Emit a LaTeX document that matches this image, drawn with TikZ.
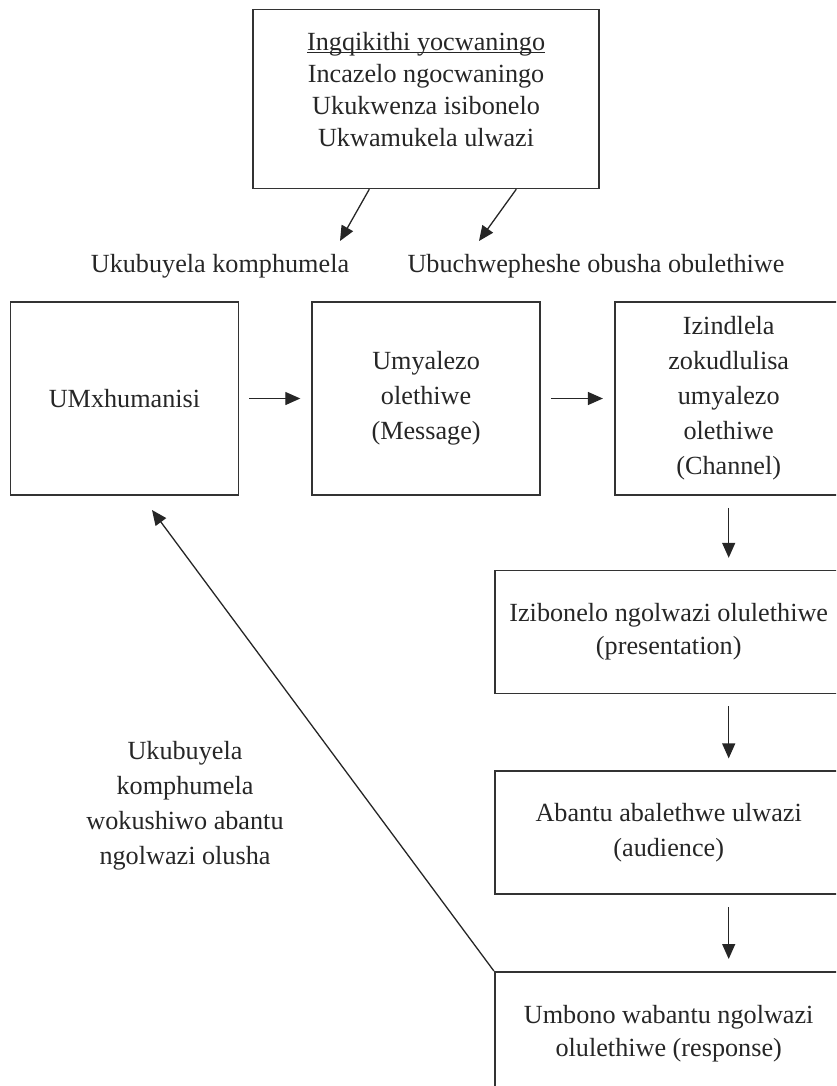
\documentclass[tikz,border=0pt]{standalone}
\usepackage{fontspec}
\setmainfont{Liberation Serif}
\usepackage{tikz}
\usetikzlibrary{arrows.meta,positioning}

\begin{document}
\begin{tikzpicture}[x=1pt,y=1pt,>={Triangle[length=15pt,width=13pt]},
font=\fontsize{26.2}{35}\selectfont,text=black!85]
\tikzstyle{box}=[draw=black!80,line width=1.6pt,align=center,inner sep=0pt]
\tikzstyle{rowbox}=[box,minimum width=228pt,minimum height=193pt]
\tikzstyle{widebox}=[box,minimum width=348pt,minimum height=123pt]
\tikzstyle{flow}=[->,draw=black!85,line width=1.3pt]
\path[use as bounding box,clip] (0,0) rectangle (836,-1086);
% upper row
\node[rowbox] (hum) at (124.5,-398.5) {UMxhumanisi};
\node[rowbox] (msg)  [right=72pt of hum] {Umyalezo\\olethiwe\\(Message)};
\node[rowbox] (chan) [right=73pt of msg] {Izindlela\\zokudlulisa\\umyalezo\\olethiwe\\(Channel)};
\node[box,minimum width=346pt,minimum height=179pt,
  font=\fontsize{26.2}{32}\selectfont] (top) [above=112pt of msg]
  {\underline{\smash{Ingqikithi yocwaningo}}\\Incazelo ngocwaningo\\Ukukwenza isibonelo\\Ukwamukela ulwazi};
\node[anchor=base] (lab1) at (220,-272) {Ukubuyela komphumela};
\node[anchor=base] (lab2) at (596,-272) {Ubuchwepheshe obusha obulethiwe};
% right column
\node[widebox,font=\fontsize{26.2}{33}\selectfont] (pres)
  [below=74pt of chan.south east,anchor=north east]
  {Izibonelo ngolwazi olulethiwe\\(presentation)};
\node[widebox] (aud)  [below=76pt of pres] {Abantu abalethwe ulwazi\\(audience)};
\node[widebox,font=\fontsize{26.2}{33}\selectfont] (resp) [below=76pt of aud]
  {Umbono wabantu ngolwazi\\olulethiwe (response)};
\node[align=center] (fbtext) at (185,-806)
  {Ukubuyela\\komphumela\\wokushiwo abantu\\ngolwazi olusha};
\coordinate (t1) at (340,-241);
\coordinate (t2) at (479,-241);
\coordinate (fb) at (152,-510);
\draw[flow] ([xshift=117pt]top.south west) -- (t1);
\draw[flow] ([xshift=264pt]top.south west) -- (t2);
\draw[flow,shorten <=10pt,shorten >=11pt] (hum) -- (msg);
\draw[flow,shorten <=10pt,shorten >=11pt] (msg) -- (chan);
\draw[flow,shorten <=12pt,shorten >=12pt] (chan.south) -- (chan.south |- pres.north);
\draw[flow,shorten <=12pt,shorten >=12pt] (chan.south |- pres.south) -- (chan.south |- aud.north);
\draw[flow,shorten <=12pt,shorten >=12pt] (chan.south |- aud.south) -- (chan.south |- resp.north);
\draw[flow] (resp.north west) -- (fb);
\end{tikzpicture}
\end{document}
